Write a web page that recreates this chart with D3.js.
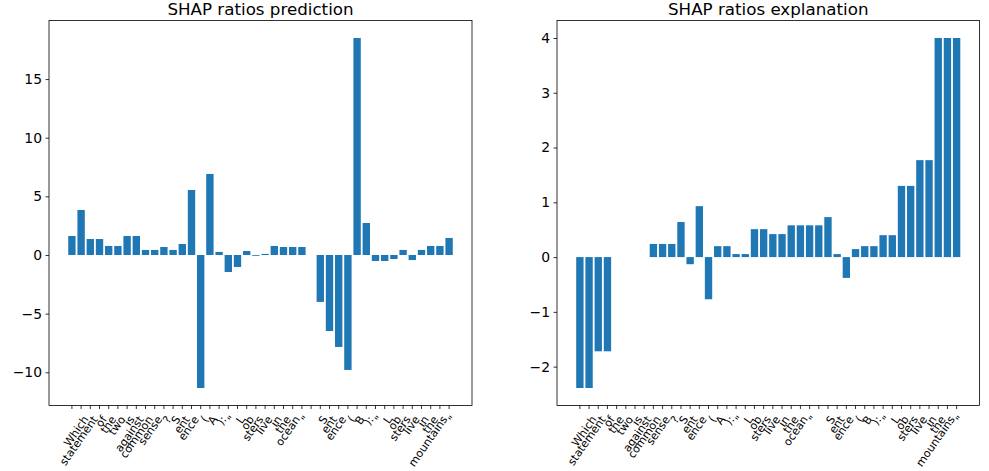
<!DOCTYPE html>
<html>
<head>
<meta charset="utf-8">
<script src="https://cdnjs.cloudflare.com/ajax/libs/d3/7.8.5/d3.min.js"></script>
<style>
  body { margin: 0; background: #fff; }
  text { font-family: "DejaVu Sans", sans-serif; }
</style>
</head>
<body>
<div id="chart"></div>
<script>
//tokens on the x axis (same for both panels)
var tokens = ["", "Which", "statement", "of", "the", "two", "is", "against", "common", "sense", "?",
    "S", "ent", "ence", "(", "A", "):", "\"", "L", "ob", "sters", "live", "in", "the", "ocean", "\"", "",
    "S", "ent", "ence", "(", "B", "):", "\"", "L", "ob", "sters", "live", "in", "the", "mountains", "\""];

//shap ratios
var predRatios = [1.62, 3.84, 1.36, 1.36, 0.77, 0.77, 1.62, 1.62, 0.43, 0.43, 0.68,
    0.43, 0.94, 5.54, -11.34, 6.91, 0.26, -1.45, -1.02, 0.34, -0.07, 0.09,
    0.77, 0.68, 0.68, 0.68, 0, -4.0, -6.48, -7.84, -9.8, 18.5, 2.73,
    -0.51, -0.51, -0.34, 0.43, -0.43, 0.43, 0.77, 0.77, 1.45];
var explRatios = [-2.39, -2.39, -1.72, -1.72, 0, 0, 0, 0, 0.24, 0.24, 0.24,
    0.64, -0.13, 0.93, -0.77, 0.2, 0.2, 0.055, 0.055, 0.51, 0.51, 0.42,
    0.42, 0.58, 0.58, 0.58, 0.58, 0.73, 0.055, -0.38, 0.146, 0.2, 0.2,
    0.4, 0.4, 1.3, 1.3, 1.77, 1.77, 4.0, 4.0, 4.0];

var predTicks = [-10, -5, 0, 5, 10, 15];
var explTicks = [-2, -1, 0, 1, 2, 3, 4];
var titles = ["SHAP ratios prediction", "SHAP ratios explanation"];

var svgWidth = 989;
var svgHeight = 471;
var axTop = 20.5, axBottom = 405.5;

var svg = d3.select("#chart")
    .append("svg")
    .attr("width", svgWidth)
    .attr("height", svgHeight);

var panels = [
    {title: titles[0], values: predRatios, ticks: predTicks, left: 49, right: 472},
    {title: titles[1], values: explRatios, ticks: explTicks, left: 557, right: 979.5}
];

panels.forEach(function(p) {
    var g = svg.append("g");

    //x: band scale laid out like matplotlib bars (width 0.8, 5% margins)
    var x = d3.scaleBand()
        .domain(d3.range(tokens.length))
        .range([p.left, p.right])
        .paddingInner(0.2)
        .paddingOuter(2.09);

    var lo = Math.min(0, d3.min(p.values));
    var hi = Math.max(0, d3.max(p.values));
    var pad = (hi - lo) * 0.05;
    var y = d3.scaleLinear()
        .domain([lo - pad, hi + pad])
        .range([axBottom, axTop]);

    //bars
    g.append("g")
        .selectAll("rect")
        .data(p.values)
        .enter()
        .append("rect")
        .attr("x", (d, i) => x(i))
        .attr("width", x.bandwidth())
        .attr("y", d => y(Math.max(0, d)))
        .attr("height", d => Math.abs(y(d) - y(0)))
        .attr("fill", "#1f77b4");

    //y axis
    var leftAxis = d3.axisLeft(y)
        .tickValues(p.ticks)
        .tickSize(3.5)
        .tickPadding(3.5)
        .tickFormat(d => d < 0 ? "\u2212" + Math.abs(d) : d);
    var ya = g.append("g")
        .attr("transform", `translate(${p.left}, 0)`)
        .call(leftAxis);
    ya.select(".domain").remove();
    ya.selectAll("line").attr("stroke", "#000").attr("stroke-width", 0.8);
    ya.selectAll("text").attr("font-size", "13.9px").attr("fill", "#000")
        .attr("font-family", "DejaVu Sans");

    //x axis
    var bottomAxis = d3.axisBottom(x)
        .tickSize(3.5)
        .tickSizeOuter(0)
        .tickFormat(i => tokens[i]);
    var xa = g.append("g")
        .attr("transform", `translate(0, ${axBottom})`)
        .call(bottomAxis);
    xa.select(".domain").remove();
    xa.selectAll("line").attr("stroke", "#000").attr("stroke-width", 0.8);

    //rotated labels hanging from the tick, ending at it
    xa.selectAll("text")
        .attr("font-size", "11.1px")
        .attr("font-family", "DejaVu Sans")
        .attr("fill", "#000")
        .attr("text-anchor", "end")
        .attr("y", 0)
        .attr("dy", "0.76em")
        .attr("transform", "translate(1, 9) rotate(-55)");

    //frame
    g.append("rect")
        .attr("x", p.left)
        .attr("y", axTop)
        .attr("width", p.right - p.left)
        .attr("height", axBottom - axTop)
        .attr("fill", "none")
        .attr("stroke", "#000")
        .attr("stroke-width", 0.8);

    //title
    g.append("text")
        .attr("x", (p.left + p.right) / 2)
        .attr("y", 14.5)
        .attr("text-anchor", "middle")
        .attr("font-size", "16.7px")
        .attr("fill", "#000")
        .text(p.title);
});
</script>
</body>
</html>
